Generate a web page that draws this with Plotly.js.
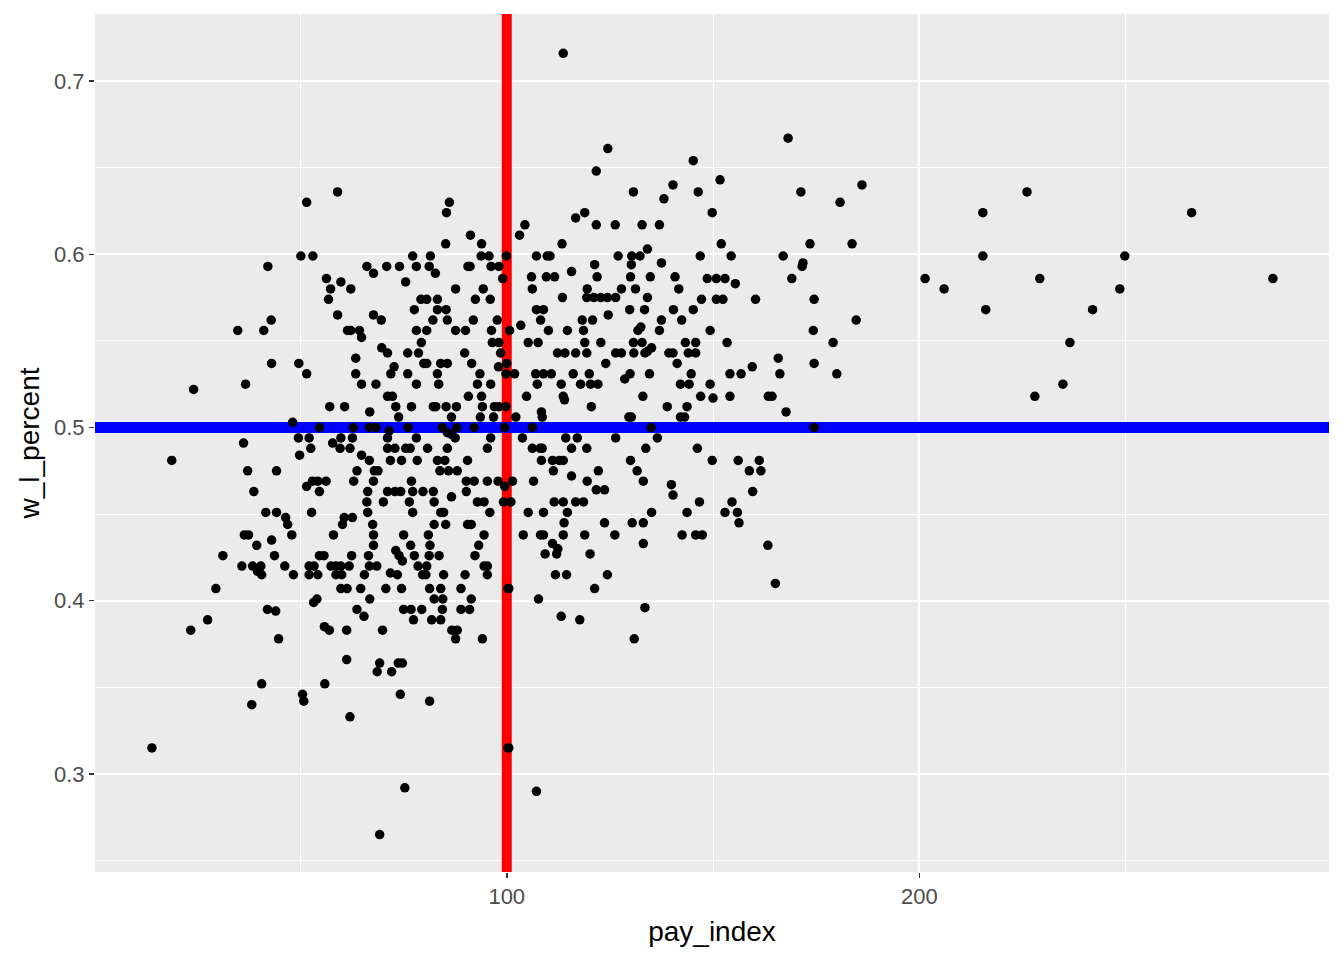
<!DOCTYPE html>
<html>
<head>
<meta charset="utf-8">
<script src="https://cdn.plot.ly/plotly-3.0.1.min.js"></script>
<style>
  html, body { margin: 0; padding: 0; background: #ffffff; }
  #chart { width: 1344px; height: 960px; }
</style>
</head>
<body>
<div id="chart"></div>
<script>
// Team payroll index vs. win-loss percentage
const pay_index = [
  51.5, 50.1, 53.0, 42.1, 42.9, 34.8, 41.1, 43.0, 49.6, 51.5, 36.7, 24.1, 48.1, 54.6,
  36.2, 49.5, 52.1, 52.5, 18.8, 49.8, 37.2, 44.2, 38.7, 51.5,
  52.9, 54.2, 54.6, 41.6, 44.2, 52.7, 46.4, 46.9, 36.4, 37.4,
  47.9, 43.0, 39.4, 31.2, 43.7, 54.6, 35.8, 38.4, 40.4, 39.6,
  40.6, 46.2, 48.3, 52.1, 53.3, 52.1, 54.2, 29.5, 54.0, 53.2,
  42.0, 44.0, 27.5, 23.4, 44.7, 40.6, 50.5, 50.8, 38.2, 14.0,
  59.0, 86.1, 85.4, 91.2, 85.2, 93.9, 77.2, 81.5, 93.8, 95.7, 99.9,
  66.1, 70.9, 74.0, 78.1, 81.2, 90.6, 91.1, 96.2, 98.1,
  67.7, 82.7, 56.3, 59.8, 75.5, 99.0,
  57.3, 62.2, 87.6, 94.3,
  56.8, 79.2, 80.6, 83.2, 92.4, 96.0,
  77.6, 83.2, 85.3,
  59.0, 67.7, 69.6, 82.1, 85.6, 91.9, 97.7,
  61.4, 62.2, 64.3, 64.8, 78.1, 80.6, 87.6, 90.0, 96.3, 100.7,
  79.3, 96.5, 98.1,
  69.7, 71.1, 63.4, 76.0, 78.6, 89.8, 98.5,
  79.9, 80.6, 84.0, 85.6, 91.5, 100.0,
  63.4, 72.7, 71.9, 76.0, 83.2, 93.5, 98.0, 99.8,
  64.8, 68.3, 78.1, 83.5, 92.9, 96.1,
  71.1, 72.3, 90.7, 93.9,
  57.1, 60.7, 73.1, 76.9, 82.2, 82.8, 85.3, 87.8, 94.1, 97.0, 98.1, 99.8,
  66.8,
  73.8, 86.6, 93.6, 96.8,
  62.8, 66.7, 68.3, 76.1, 84.4, 87.9, 92.1, 99.5,
  71.5, 85.6, 86.6,
  59.8, 62.6, 71.1, 78.1, 87.5, 96.1,
  57.8,
  59.6, 62.0, 71.1, 72.9, 75.5, 76.6, 80.8, 85.6, 95.3,
  64.8,
  66.7, 71.8, 74.5, 78.3, 83.2, 85.0, 90.5,
  63.7, 67.9, 68.8, 83.8, 85.9, 88.0,
  56.2, 62.9, 67.7, 76.9, 90.2, 92.1, 95.3, 97.9,
  99.5,
  66.3, 71.1, 72.9, 74.3, 77.2, 79.7, 82.2, 90.2,
  86.6,
  66.1, 70.1, 76.4, 82.4, 92.9, 94.5, 99.2, 101.0,
  66.3, 77.2, 84.0, 84.7, 95.9,
  60.6, 62.6, 60.2, 67.5, 82.4, 85.2, 90.5, 91.4,
  58.0, 67.7, 75.0, 81.0, 94.5,
  67.7, 76.7, 81.4, 93.2,
  73.1, 73.9, 74.7,
  55.7, 62.4, 66.5, 77.6, 81.2, 83.6, 92.3,
  57.4, 58.6, 59.8, 61.8, 66.7, 68.5, 78.5, 80.6, 94.5, 95.3,
  58.6, 60.0, 65.5, 71.8, 73.5, 79.6, 80.4, 84.7, 89.9, 95.3,
  59.8, 61.3, 64.6, 70.7, 74.5, 81.3, 84.0, 88.9, 100.3,
  66.8, 82.4, 84.5, 91.4,
  63.7, 75.0, 76.8, 79.4, 84.4, 88.9, 91.0,
  65.4,
  77.4, 81.8, 84.0,
  55.8, 57.0, 61.2, 69.9, 86.7, 88.0,
  87.6, 94.1,
  61.2, 69.2, 73.7, 74.7, 68.6, 72.1,
  55.9, 74.2, 81.3, 62.0, 100.3, 75.3, 69.2,
  113.7, 124.5, 121.7, 145.2, 130.7, 140.3, 138.1,
  116.7, 118.9, 104.4, 103.1,
  121.7, 126.3, 132.8, 137.0,
  113.4,
  107.2, 109.8, 110.5, 127.0, 130.3, 132.3, 134.1,
  121.3, 130.2, 137.5, 115.7,
  106.0, 109.6, 111.6, 121.9, 130.0, 134.8, 140.8,
  106.2, 119.5, 127.8, 131.2, 141.7,
  113.5, 119.4, 121.1, 122.8, 124.4, 126.4, 134.1,
  107.2, 108.9, 129.8, 133.4, 140.4, 145.2,
  108.2, 124.6,
  118.3, 120.8, 137.5, 142.4,
  103.4,
  110.1, 114.7, 118.6, 131.8, 132.5, 137.0,
  105.2, 107.6, 118.9, 122.8, 130.7, 132.8, 143.3,
  135.1, 134.1,
  112.3, 114.1, 116.7, 119.4, 126.4, 127.8, 130.8, 133.5, 139.3, 140.3, 144.0, 145.8,
  124.0, 141.3,
  101.9, 107.0, 108.9, 110.8, 116.1, 120.0, 129.9, 134.6, 144.7,
  128.6,
  107.4, 113.2, 117.9, 120.3, 122.1, 142.1, 144.2,
  104.8, 113.7, 133.0, 114.0,
  120.5, 138.9, 143.7,
  108.4,
  108.6, 102.2, 129.6, 130.2, 142.1, 143.1,
  106.2, 135.0,
  103.8, 114.3, 117.1, 126.4, 136.5,
  106.2, 108.1, 108.6, 115.7, 119.4, 133.7,
  108.4, 111.1, 112.7, 113.7, 130.0,
  111.3, 122.2, 131.6,
  115.7,
  101.4, 106.5, 119.5, 133.1,
  139.9,
  121.7, 123.7,
  140.3,
  111.5, 113.7, 116.7, 118.6,
  105.2, 108.9, 114.7, 135.1, 143.7,
  113.9, 123.7, 130.4, 133.1,
  104.0, 108.2, 108.9, 113.7, 118.9, 126.2, 142.5,
  111.1, 112.4, 112.1, 109.3, 133.1, 120.2,
  111.8, 114.5, 124.4,
  100.5, 121.3,
  107.7, 133.5, 113.2, 117.7, 130.9, 100.5, 107.2,
  168.2, 151.7, 146.4, 171.3, 186.1, 180.8, 149.8,
  152.0, 173.5, 183.7,
  146.9, 154.4, 167.0, 171.8, 171.6,
  169.1, 148.6, 150.8, 152.9, 155.4,
  147.2, 150.8, 152.4, 160.3, 174.5,
  184.7, 149.3, 174.3,
  145.8, 153.4, 179.1,
  165.8, 174.5, 159.5, 154.1, 156.8, 166.2, 180.0,
  149.3, 147.0, 154.1, 163.4, 164.3, 150.0,
  167.7, 174.5, 146.2, 149.8, 156.1, 161.2, 158.8, 161.6, 159.6,
  146.7, 154.6, 152.9, 155.9, 156.3, 145.8, 147.4, 163.3, 165.1,
  226.1, 215.4, 266.0, 215.4, 249.8, 201.4, 229.2, 285.7,
  206.0, 248.6, 216.1, 242.0, 236.5, 234.8, 228.0
];

const w_l_percent = [
  0.630, 0.599, 0.599, 0.593, 0.562, 0.556, 0.556, 0.537, 0.537, 0.531, 0.525, 0.522, 0.503, 0.500,
  0.491, 0.494, 0.494, 0.488, 0.481, 0.484, 0.475, 0.475, 0.463, 0.466,
  0.469, 0.469, 0.463, 0.451, 0.451, 0.451, 0.448, 0.444, 0.438, 0.438,
  0.438, 0.435, 0.432, 0.426, 0.426, 0.426, 0.420, 0.420, 0.420, 0.417,
  0.415, 0.420, 0.415, 0.420, 0.420, 0.415, 0.415, 0.407, 0.401, 0.399,
  0.395, 0.394, 0.389, 0.383, 0.378, 0.352, 0.346, 0.342, 0.340, 0.315,
  0.636, 0.630, 0.624, 0.611, 0.606, 0.606, 0.599, 0.599, 0.599, 0.599, 0.599,
  0.593, 0.593, 0.593, 0.593, 0.593, 0.593, 0.593, 0.593, 0.593,
  0.589, 0.589, 0.586, 0.584, 0.584, 0.586,
  0.580, 0.580, 0.580, 0.580,
  0.574, 0.574, 0.574, 0.574, 0.574, 0.574,
  0.568, 0.568, 0.568,
  0.565, 0.565, 0.562, 0.562, 0.562, 0.562, 0.562,
  0.556, 0.556, 0.556, 0.552, 0.556, 0.556, 0.556, 0.556, 0.556, 0.556,
  0.549, 0.549, 0.549,
  0.546, 0.543, 0.540, 0.543, 0.543, 0.543, 0.543,
  0.537, 0.537, 0.537, 0.537, 0.537, 0.537,
  0.531, 0.535, 0.531, 0.531, 0.531, 0.531, 0.535, 0.531,
  0.525, 0.525, 0.525, 0.525, 0.525, 0.525,
  0.518, 0.518, 0.518, 0.518,
  0.512, 0.512, 0.512, 0.512, 0.512, 0.512, 0.512, 0.512, 0.512, 0.512, 0.512, 0.512,
  0.509,
  0.506, 0.506, 0.506, 0.506,
  0.500, 0.500, 0.500, 0.500, 0.500, 0.500, 0.500, 0.500,
  0.498, 0.497, 0.496,
  0.494, 0.494, 0.494, 0.494, 0.494, 0.494,
  0.491,
  0.488, 0.488, 0.488, 0.488, 0.488, 0.488, 0.488, 0.488, 0.488,
  0.484,
  0.481, 0.481, 0.481, 0.481, 0.481, 0.481, 0.481,
  0.475, 0.475, 0.475, 0.475, 0.475, 0.475,
  0.469, 0.469, 0.469, 0.469, 0.469, 0.469, 0.469, 0.469,
  0.466,
  0.463, 0.463, 0.463, 0.463, 0.463, 0.463, 0.463, 0.463,
  0.460,
  0.457, 0.457, 0.457, 0.457, 0.457, 0.457, 0.457, 0.457,
  0.451, 0.451, 0.451, 0.451, 0.451,
  0.448, 0.448, 0.444, 0.444, 0.444, 0.444, 0.444, 0.444,
  0.438, 0.438, 0.438, 0.438, 0.438,
  0.432, 0.432, 0.432, 0.432,
  0.429, 0.426, 0.423,
  0.426, 0.426, 0.426, 0.426, 0.426, 0.426, 0.426,
  0.420, 0.420, 0.420, 0.420, 0.420, 0.420, 0.420, 0.420, 0.420, 0.420,
  0.415, 0.415, 0.415, 0.416, 0.415, 0.415, 0.415, 0.415, 0.415, 0.415,
  0.407, 0.407, 0.407, 0.407, 0.407, 0.407, 0.407, 0.407, 0.407,
  0.401, 0.401, 0.401, 0.401,
  0.395, 0.395, 0.395, 0.395, 0.395, 0.395, 0.395,
  0.391,
  0.389, 0.389, 0.389,
  0.385, 0.383, 0.383, 0.383, 0.383, 0.383,
  0.378, 0.378,
  0.366, 0.364, 0.364, 0.364, 0.359, 0.359,
  0.352, 0.346, 0.342, 0.333, 0.315, 0.292, 0.265,
  0.716, 0.661, 0.648, 0.654, 0.636, 0.640, 0.632,
  0.621, 0.624, 0.617, 0.611,
  0.617, 0.617, 0.617, 0.617,
  0.606,
  0.599, 0.599, 0.599, 0.599, 0.599, 0.599, 0.603,
  0.594, 0.594, 0.595, 0.590,
  0.587, 0.587, 0.587, 0.587, 0.587, 0.587, 0.587,
  0.580, 0.580, 0.580, 0.580, 0.580,
  0.575, 0.575, 0.575, 0.575, 0.575, 0.575, 0.575,
  0.568, 0.568, 0.568, 0.568, 0.568, 0.568,
  0.562, 0.565,
  0.562, 0.562, 0.562, 0.562,
  0.559,
  0.556, 0.556, 0.556, 0.556, 0.558, 0.556,
  0.549, 0.549, 0.549, 0.549, 0.549, 0.549, 0.549,
  0.546, 0.544,
  0.543, 0.543, 0.543, 0.543, 0.543, 0.543, 0.543, 0.543, 0.543, 0.543, 0.543, 0.543,
  0.537, 0.537,
  0.531, 0.531, 0.531, 0.531, 0.531, 0.531, 0.531, 0.531, 0.531,
  0.528,
  0.525, 0.525, 0.525, 0.525, 0.525, 0.525, 0.525,
  0.518, 0.518, 0.518, 0.516,
  0.512, 0.512, 0.512,
  0.509,
  0.506, 0.506, 0.506, 0.506, 0.506, 0.506,
  0.500, 0.500,
  0.494, 0.494, 0.494, 0.494, 0.494,
  0.488, 0.488, 0.488, 0.488, 0.488, 0.488,
  0.481, 0.481, 0.481, 0.481, 0.481,
  0.475, 0.475, 0.475,
  0.472,
  0.469, 0.469, 0.469, 0.469,
  0.467,
  0.464, 0.464,
  0.461,
  0.457, 0.457, 0.457, 0.457,
  0.451, 0.451, 0.451, 0.451, 0.451,
  0.445, 0.445, 0.445, 0.445,
  0.438, 0.438, 0.438, 0.438, 0.438, 0.438, 0.438,
  0.433, 0.430, 0.427, 0.427, 0.433, 0.427,
  0.415, 0.415, 0.415,
  0.407, 0.407,
  0.401, 0.396, 0.391, 0.389, 0.378, 0.315, 0.290,
  0.667, 0.643, 0.636, 0.636, 0.640, 0.630, 0.624,
  0.606, 0.606, 0.606,
  0.599, 0.599, 0.599, 0.595, 0.593,
  0.586, 0.586, 0.586, 0.586, 0.583,
  0.574, 0.574, 0.574, 0.574, 0.574,
  0.562, 0.556, 0.556,
  0.549, 0.549, 0.549,
  0.540, 0.537, 0.535, 0.531, 0.531, 0.531, 0.531,
  0.525, 0.518, 0.518, 0.518, 0.518, 0.517,
  0.509, 0.500, 0.488, 0.481, 0.481, 0.481, 0.475, 0.475, 0.463,
  0.457, 0.457, 0.451, 0.451, 0.445, 0.438, 0.438, 0.432, 0.410,
  0.636, 0.624, 0.624, 0.599, 0.599, 0.586, 0.586, 0.586,
  0.580, 0.580, 0.568, 0.568, 0.549, 0.525, 0.518
];

// reference lines
const pay_reference = 100;
const wl_reference = 0.5;

// axis ranges and ticks
const x_range = [0.2, 299.3];
const y_range = [0.2434, 0.7387];
const x_ticks = [100, 200];
const x_minor = [50, 150, 250];
const y_ticks = [0.3, 0.4, 0.5, 0.6, 0.7];
const y_tick_labels = ['0.3', '0.4', '0.5', '0.6', '0.7'];
const y_minor = [0.25, 0.35, 0.45, 0.55, 0.65];

if (pay_index.length !== w_l_percent.length) {
  console.error('length mismatch', pay_index.length, w_l_percent.length);
}

const FONT = 'Liberation Sans, Arial, Helvetica, sans-serif';

// reference lines as traces so that they sit above the grid but below the points
const vline = {
  type: 'scatter', mode: 'lines',
  x: [pay_reference, pay_reference],
  y: [y_range[0] - 0.05, y_range[1] + 0.05],
  line: { color: '#FF0000', width: 10 },
  hoverinfo: 'skip'
};
const hline = {
  type: 'scatter', mode: 'lines',
  x: [x_range[0] - 20, x_range[1] + 20],
  y: [wl_reference, wl_reference],
  line: { color: '#0000FF', width: 11 },
  hoverinfo: 'skip'
};

const points = {
  type: 'scatter',
  mode: 'markers',
  x: pay_index,
  y: w_l_percent,
  marker: { color: '#000000', size: 9.5, line: { width: 0 } },
  hoverinfo: 'x+y'
};

const layout = {
  width: 1344,
  height: 960,
  margin: { l: 95, r: 15, t: 14, b: 88 },
  paper_bgcolor: '#FFFFFF',
  plot_bgcolor: '#EBEBEB',
  font: { family: FONT, color: '#000000' },
  showlegend: false,
  xaxis: {
    range: x_range,
    tickmode: 'array',
    tickvals: x_ticks,
    ticktext: x_ticks.map(String),
    showgrid: true,
    gridcolor: '#FFFFFF',
    gridwidth: 2,
    minor: { tickmode: 'array', tickvals: x_minor, showgrid: true, gridcolor: '#FFFFFF', gridwidth: 1, ticks: '' },
    zeroline: false,
    showline: false,
    ticks: 'outside',
    ticklen: 5,
    tickwidth: 1.5,
    tickcolor: '#333333',
    tickfont: { family: FONT, size: 22, color: '#4D4D4D' },
    automargin: false,
    title: { text: 'pay_index', font: { family: FONT, size: 28, color: '#000000' }, standoff: 12 }
  },
  yaxis: {
    range: y_range,
    tickmode: 'array',
    tickvals: y_ticks,
    ticktext: y_tick_labels,
    showgrid: true,
    gridcolor: '#FFFFFF',
    gridwidth: 2,
    minor: { tickmode: 'array', tickvals: y_minor, showgrid: true, gridcolor: '#FFFFFF', gridwidth: 1, ticks: '' },
    zeroline: false,
    showline: false,
    ticks: 'outside',
    ticklen: 5,
    tickwidth: 1.5,
    tickcolor: '#333333',
    tickfont: { family: FONT, size: 22, color: '#4D4D4D' },
    automargin: false,
    title: { text: 'w_l_percent', font: { family: FONT, size: 28, color: '#000000' }, standoff: 6 }
  }
};

Plotly.newPlot('chart', [vline, hline, points], layout, { displayModeBar: false, staticPlot: true });
</script>
</body>
</html>
